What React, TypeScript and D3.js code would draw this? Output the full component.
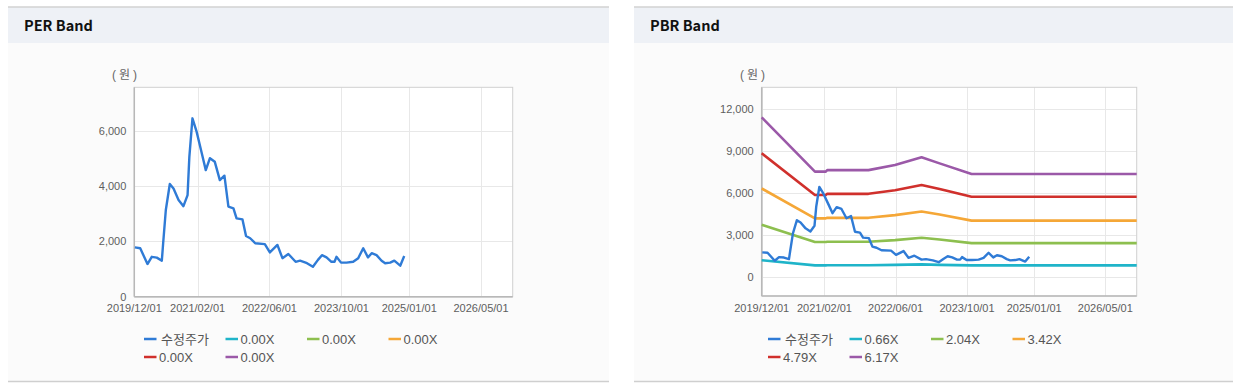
import React from 'react';
import * as d3 from 'd3';

// ---------- data ----------
const xTickLabels = ['2019/12/01', '2021/02/01', '2022/06/01', '2023/10/01', '2025/01/01', '2026/05/01'];
const xDomain = ['2019-12-01', '2026-12-01'];

const priceDates = [
  '2019-12-05', '2020-01-10', '2020-02-28', '2020-03-28', '2020-05-01', '2020-06-04', '2020-06-13',
  '2020-07-01', '2020-07-28', '2020-08-22', '2020-09-25', '2020-10-28', '2020-11-25', '2020-12-07',
  '2020-12-28', '2021-01-25', '2021-03-01', '2021-03-28', '2021-04-25', '2021-05-28', '2021-07-01',
  '2021-08-01', '2021-08-28', '2021-10-01', '2021-10-22', '2021-12-01', '2021-12-25', '2022-01-22',
  '2022-02-25', '2022-05-01', '2022-06-04', '2022-07-25', '2022-08-28', '2022-10-07', '2022-11-25',
  '2022-12-25', '2023-02-10', '2023-03-22', '2023-04-25', '2023-05-22', '2023-06-22', '2023-07-25',
  '2023-08-15', '2023-08-28', '2023-09-28', '2023-11-04', '2023-12-19', '2024-01-22', '2024-02-25',
  '2024-03-28', '2024-04-22', '2024-05-25', '2024-06-28', '2024-07-22', '2024-08-25', '2024-09-22',
  '2024-11-01', '2024-11-28',
];
const priceValues = [
  1780, 1750, 1180, 1440, 1410, 1300, 1930,
  3130, 4070, 3910, 3490, 3270, 3670, 5050,
  6440, 5960, 5180, 4570, 5000, 4870, 4210,
  4370, 3250, 3190, 2830, 2790, 2190, 2110,
  1930, 1900, 1600, 1870, 1390, 1540, 1260,
  1300, 1210, 1080, 1330, 1500, 1420, 1260,
  1260, 1440, 1230, 1230, 1260, 1390, 1750,
  1420, 1570, 1500, 1300, 1210, 1230, 1300,
  1120, 1470,
];

const bandDates = [
  '2019-12-01', '2020-11-28', '2021-02-10', '2021-02-20', '2021-11-28',
  '2022-05-28', '2022-11-25', '2023-03-28', '2023-11-01', '2026-12-01',
];
const band066 = [1220, 850, 850, 860, 860, 890, 920, 890, 850, 850];
const band204 = [3740, 2520, 2520, 2540, 2540, 2650, 2820, 2690, 2440, 2440];
const band342 = [6330, 4200, 4200, 4240, 4240, 4430, 4690, 4480, 4040, 4040];
const band479 = [8840, 5870, 5870, 5950, 5950, 6210, 6580, 6300, 5740, 5740];
const band617 = [11400, 7530, 7530, 7640, 7640, 8000, 8550, 8120, 7360, 7360];

const perLegend = ['수정주가', '0.00X', '0.00X', '0.00X', '0.00X', '0.00X'];
const pbrLegend = ['수정주가', '0.66X', '2.04X', '3.42X', '4.79X', '6.17X'];
const seriesColors = ['#2f7bd6', '#1fb4c9', '#8dbf4f', '#f5a737', '#d0302c', '#9b59a8'];

const perYTicks = [0, 2000, 4000, 6000];
const perYDomain = [0, 7560];
const pbrYTicks = [0, 3000, 6000, 9000, 12000];
const pbrYDomain = [-1330, 13540];

// ---------- helpers ----------
const parse = d3.timeParse('%Y-%m-%d');
const parseTick = d3.timeParse('%Y/%m/%d');
const fmt = d3.format(',');
const TICK_FONT = '"Liberation Sans", Arial, "Noto Sans CJK KR", sans-serif';

type PanelProps = {
  px: number; pw: number; title: string;
  plot: { l: number; r: number; t: number; b: number };
  yDomain: number[]; yTicks: number[];
  bands: number[][]; legend: string[]; legendX: number; unitX: number;
};

function Panel({ px, pw, title, plot, yDomain, yTicks, bands, legend, legendX, unitX }: PanelProps) {
  const x = d3.scaleTime()
    .domain([parse(xDomain[0])!, parse(xDomain[1])!])
    .range([plot.l, plot.r]);
  const y = d3.scaleLinear().domain(yDomain).range([plot.b, plot.t]);
  const xTicks = xTickLabels.map((s) => parseTick(s)!);

  const line = d3.line<[Date, number]>().x((d) => x(d[0])).y((d) => y(d[1]));
  const pricePts: [Date, number][] = priceDates.map((d, i) => [parse(d)!, priceValues[i]]);
  const bandPts = bands.map((arr) => bandDates.map((d, i) => [parse(d)!, arr[i]] as [Date, number]));

  const colW = 81.5;
  return (
    <g>
      <rect x={px} y={7} width={pw} height={375} fill="#fbfbfb" />
      <rect x={px} y={7} width={pw} height={36} fill="#eef1f6" />
      <line x1={px} x2={px + pw} y1={7} y2={7} stroke="#d2d2d2" strokeWidth={1.5} />
      <line x1={px} x2={px + pw} y1={381.5} y2={381.5} stroke="#cfcfcf" strokeWidth={1.5} />
      <text x={px + 16} y={31} fontFamily='"Noto Sans CJK KR", "Noto Sans", sans-serif' fontWeight="bold"
        fontSize={14.5} fill="#111">{title}</text>

      <rect x={plot.l} y={plot.t} width={plot.r - plot.l} height={plot.b - plot.t} fill="#ffffff" />
      {/* grid */}
      {yTicks.map((t) => (
        <line key={'gy' + t} x1={plot.l} x2={plot.r} y1={Math.round(y(t)) + 0.5} y2={Math.round(y(t)) + 0.5}
          stroke="#e8e8e8" strokeWidth={1} />
      ))}
      {xTicks.map((t, i) => (
        <line key={'gx' + i} x1={Math.round(x(t)) + 0.5} x2={Math.round(x(t)) + 0.5} y1={plot.t} y2={plot.b}
          stroke="#e8e8e8" strokeWidth={1} />
      ))}
      {/* frame */}
      <rect x={plot.l} y={plot.t} width={plot.r - plot.l} height={plot.b - plot.t} fill="none"
        stroke="#d0d0d0" strokeWidth={1} />
      <line x1={plot.l} x2={plot.l} y1={plot.t} y2={plot.b} stroke="#b8b8b8" strokeWidth={1.5} />
      <line x1={plot.l} x2={plot.r} y1={plot.b} y2={plot.b} stroke="#b8b8b8" strokeWidth={1.5} />

      {/* y labels */}
      {yTicks.map((t) => (
        <text key={'ly' + t} x={plot.l - 8} y={y(t) + 4} textAnchor="end" fontFamily={TICK_FONT}
          fontSize={11} fill="#5e5e5e">{fmt(t)}</text>
      ))}
      {/* x labels */}
      {xTicks.map((t, i) => (
        <text key={'lx' + i} x={x(t)} y={312} textAnchor="middle" fontFamily={TICK_FONT}
          fontSize={11} fill="#5e5e5e">{xTickLabels[i]}</text>
      ))}
      <text x={unitX} y={79} fontFamily={TICK_FONT} fontSize={12} letterSpacing={3} fill="#666">(원)</text>

      {/* series */}
      <g>
        {bandPts.map((pts, i) => (
          <path key={'b' + i} d={line(pts) || ''} fill="none" stroke={seriesColors[i + 1]}
            strokeWidth={2.6} strokeLinejoin="round" />
        ))}
        <path d={line(pricePts) || ''} fill="none" stroke={seriesColors[0]} strokeWidth={2.4}
          strokeLinejoin="round" />
      </g>

      {/* legend */}
      {legend.map((name, i) => {
        const col = i % 4;
        const row = Math.floor(i / 4);
        const lx = legendX + col * colW;
        const ly = 339 + row * 18;
        const tx = i === 0 ? lx + 17 : lx + 15;
        return (
          <g key={'lg' + i}>
            <line x1={lx} x2={lx + 12.5} y1={ly} y2={ly} stroke={seriesColors[i]} strokeWidth={2.5} />
            <text x={tx} y={ly + 4.5} fontFamily={TICK_FONT} fontSize={13} fill="#555">{name}</text>
          </g>
        );
      })}
    </g>
  );
}

export default function App() {
  return (
    <svg width={1246} height={392} style={{ position: 'absolute', left: 0, top: 0, background: '#ffffff' }}>
      <rect x={0} y={0} width={1246} height={392} fill="#ffffff" />
      <Panel px={8} pw={601} title="PER Band"
        plot={{ l: 134.3, r: 512.7, t: 87.3, b: 296.7 }}
        yDomain={perYDomain} yTicks={perYTicks} bands={[]} legend={perLegend}
        legendX={144} unitX={112} />
      <Panel px={634} pw={599} title="PBR Band"
        plot={{ l: 761.7, r: 1136.7, t: 87.3, b: 296 }}
        yDomain={pbrYDomain} yTicks={pbrYTicks}
        bands={[band066, band204, band342, band479, band617]} legend={pbrLegend}
        legendX={768} unitX={740} />
    </svg>
  );
}
